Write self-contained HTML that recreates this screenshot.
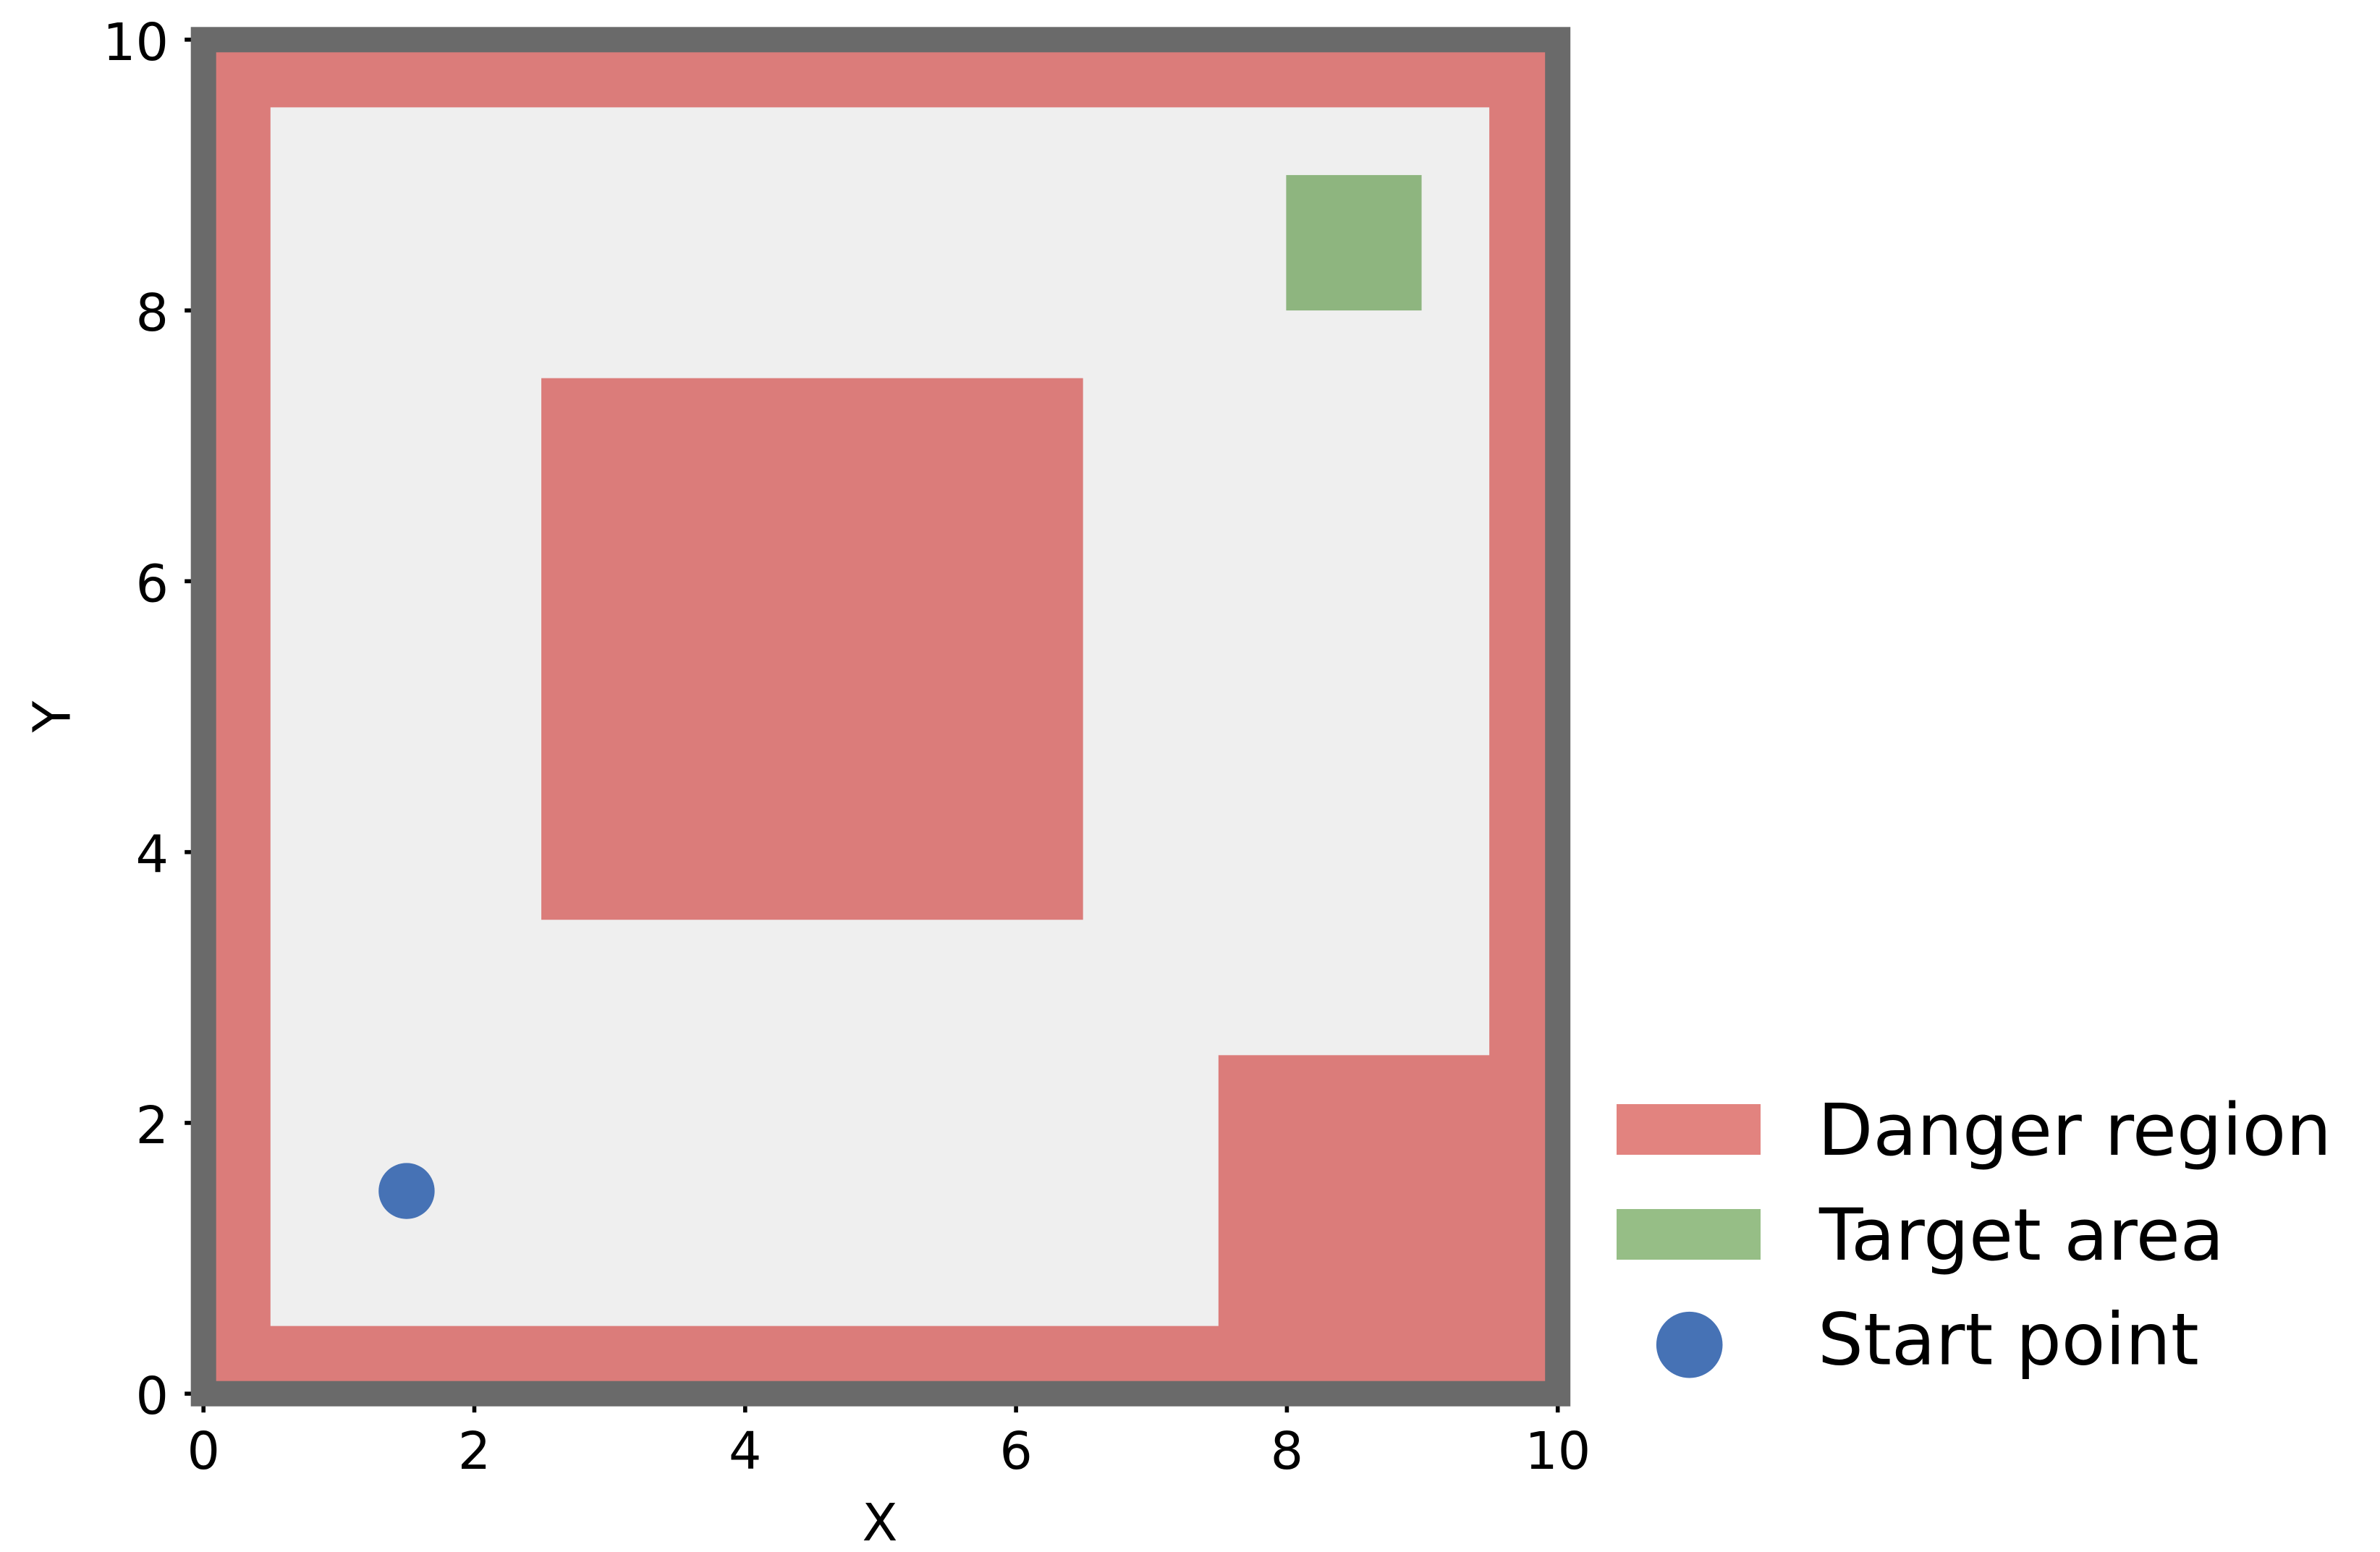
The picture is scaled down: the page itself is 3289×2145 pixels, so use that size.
<!DOCTYPE html>
<html lang="en">
<head>
<meta charset="utf-8">
<title>Danger region map</title>
<style>
  html, body { margin: 0; padding: 0; background: #ffffff; }
  body { width: 3289px; height: 2145px; overflow: hidden; }
  svg { display: block; }
  text { font-family: "DejaVu Sans", "Liberation Sans", sans-serif; fill: #000000; }
  .tick-label, .axis-title { font-size: 71.5px; }
  .legend-label { font-size: 99.2px; }
</style>
</head>
<body>
<svg id="chart" xmlns="http://www.w3.org/2000/svg" width="3289" height="2145" viewBox="0 0 3289 2145">
  <rect x="0" y="0" width="3289" height="2145" fill="#ffffff"/>
  <g id="ticks"></g>
  <g id="plot"></g>
  <text class="axis-title" x="1216" y="2129" text-anchor="middle">X</text>
  <text class="axis-title" x="96.5" y="990.5" text-anchor="middle" transform="rotate(-90 96.5 990.5)">Y</text>
  <g>
    <g>
      <rect x="2234" y="1526" width="199" height="70" fill="#e2837f"/>
      <text class="legend-label" x="2512" y="1596">Danger region</text>
    </g>
    <g>
      <rect x="2234" y="1671" width="199" height="70" fill="#96be86"/>
      <text class="legend-label" x="2514" y="1741">Target area</text>
    </g>
    <g>
      <circle cx="2334.7" cy="1858.7" r="45.8" fill="#4672b5"/>
      <text class="legend-label" x="2512" y="1885.5">Start point</text>
    </g>
  </g>
</svg>
<script>
// Chart data (in axis units)
const xTickValues = [0, 2, 4, 6, 8, 10];
const yTickValues = [0, 2, 4, 6, 8, 10];
const xTickLabels = ["0", "2", "4", "6", "8", "10"];
const yTickLabels = ["0", "2", "4", "6", "8", "10"];
const boundsMin = [0, 0];
const boundsMax = [10, 10];
const dangerNames = ["wall-left", "wall-right", "wall-top", "wall-bottom", "center-block", "corner-block"];
const dangerX0 = [0, 9.5, 0, 0, 2.5, 7.5];
const dangerY0 = [0, 0, 9.5, 0, 3.5, 0];
const dangerX1 = [0.5, 10, 10, 10, 6.5, 10];
const dangerY1 = [10, 10, 10, 0.5, 7.5, 2.5];
const targetX = [8, 9];
const targetY = [8, 9];
const startPoint = [1.5, 1.5];

const SVG_NS = "http://www.w3.org/2000/svg";
const xScale = function (v) { return 281.2 + 187.15 * v; };
const xFillScale = function (v) { return 280.2 + 187.15 * v; };
const yScale = function (v) { return 1926.2 - 187.14 * v; };
const plot = document.getElementById("plot");
const ticks = document.getElementById("ticks");

function makeRect(x0, y0, x1, y1, fill) {
  const r = document.createElementNS(SVG_NS, "rect");
  r.setAttribute("x", xFillScale(x0));
  r.setAttribute("y", yScale(y1));
  r.setAttribute("width", xFillScale(x1) - xFillScale(x0));
  r.setAttribute("height", yScale(y0) - yScale(y1));
  r.setAttribute("fill", fill);
  return r;
}

const field = makeRect(boundsMin[0], boundsMin[1], boundsMax[0], boundsMax[1], "#efefef");


plot.appendChild(field);

dangerNames.forEach(function (name, i) {
  const d = makeRect(dangerX0[i], dangerY0[i], dangerX1[i], dangerY1[i], "#db7c7a");
  
  
  plot.appendChild(d);
});

const target = makeRect(targetX[0], targetY[0], targetX[1], targetY[1], "#8eb57f");


plot.appendChild(target);

const start = document.createElementNS(SVG_NS, "circle");
start.setAttribute("cx", xScale(startPoint[0]));
start.setAttribute("cy", yScale(startPoint[1]) + 0.6);
start.setAttribute("r", 38.7);
start.setAttribute("fill", "#4672b5");


plot.appendChild(start);

const frame = document.createElementNS(SVG_NS, "rect");
frame.setAttribute("x", xScale(boundsMin[0]));
frame.setAttribute("y", yScale(boundsMax[1]));
frame.setAttribute("width", xScale(boundsMax[0]) - xScale(boundsMin[0]));
frame.setAttribute("height", yScale(boundsMin[1]) - yScale(boundsMax[1]));
frame.setAttribute("fill", "none");
frame.setAttribute("stroke", "#6a6a6a");
frame.setAttribute("stroke-width", 35);
frame.setAttribute("stroke-linejoin", "miter");


plot.appendChild(frame);

xTickValues.forEach(function (v, i) {
  const mark = document.createElementNS(SVG_NS, "line");
  mark.setAttribute("x1", xScale(v));
  mark.setAttribute("x2", xScale(v));
  mark.setAttribute("y1", yScale(0));
  mark.setAttribute("y2", yScale(0) + 26);
  mark.setAttribute("stroke", "#000000");
  mark.setAttribute("stroke-width", 5.6);
  
  
  ticks.appendChild(mark);
  const label = document.createElementNS(SVG_NS, "text");
  label.setAttribute("x", xScale(v));
  label.setAttribute("y", 2030);
  label.setAttribute("text-anchor", "middle");
  label.setAttribute("class", "tick-label");
  
  
  label.textContent = xTickLabels[i];
  ticks.appendChild(label);
});

yTickValues.forEach(function (v, i) {
  const mark = document.createElementNS(SVG_NS, "line");
  mark.setAttribute("x1", xScale(0) - 26);
  mark.setAttribute("x2", xScale(0));
  mark.setAttribute("y1", yScale(v));
  mark.setAttribute("y2", yScale(v));
  mark.setAttribute("stroke", "#000000");
  mark.setAttribute("stroke-width", 5.6);
  
  
  ticks.appendChild(mark);
  const label = document.createElementNS(SVG_NS, "text");
  label.setAttribute("x", 233);
  label.setAttribute("y", yScale(v) + 28);
  label.setAttribute("text-anchor", "end");
  label.setAttribute("class", "tick-label");
  
  
  label.textContent = yTickLabels[i];
  ticks.appendChild(label);
});
</script>
</body>
</html>
